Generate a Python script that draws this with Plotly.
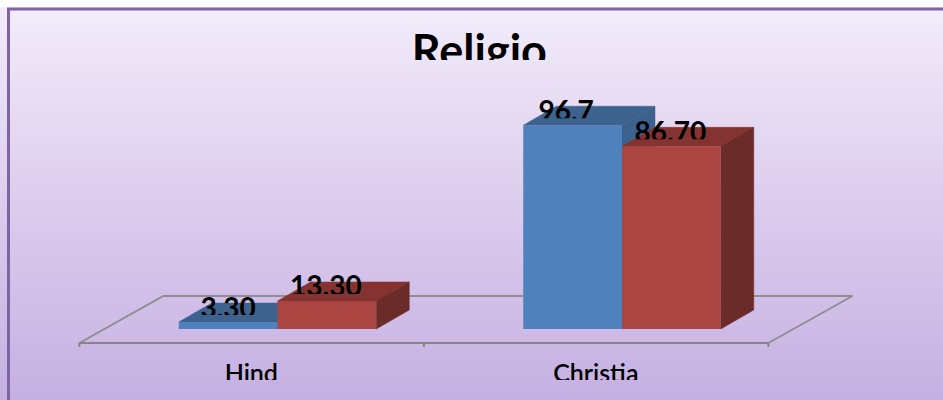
import numpy as np
import plotly.graph_objects as go

# ---- data ----
categories = ["Hind", "Christia"]
series_names = ["Series A", "Series B"]
series_a = [3.3, 96.7]
series_b = [13.3, 86.7]
labels_a = ["3.30", "96.7"]
labels_b = ["13.30", "86.70"]
title_text = "Religio"

# ---- axis scale (figure is 943x400) ----
W, H = 943, 400
PX_PER_X = 344.5      # pixels per category step
PX_PER_Y = 2.107      # pixels per value unit
X0_PX, Y0_PX = 277.5, 329
XR = [-X0_PX / PX_PER_X, (W - X0_PX) / PX_PER_X]
YR = [-(H - Y0_PX) / PX_PER_Y, Y0_PX / PX_PER_Y]

BAR_W = 98.75 / PX_PER_X
DX, DY = 33 / PX_PER_X, 19 / PX_PER_Y
xs = [0, 1]

fig = go.Figure()

# background gradient
gy = np.linspace(YR[0], (Y0_PX - 9) / PX_PER_Y, 120)
gz = [[v, v] for v in gy]
fig.add_trace(go.Heatmap(
    x=[(8 - X0_PX) / PX_PER_X, XR[1]], y=gy, z=gz, zsmooth="best", showscale=False, hoverinfo="skip",
    zmin=gy[0], zmax=gy[-1],
    colorscale=[[0, "#C5B0E2"], [0.5, "#DCCCED"], [1, "#F2ECFA"]], xaxis="x", yaxis="y"))

# floor
GRID = "#8E8E8E"
fl, fm, fr = -0.575, 0.425, 1.425
fy, by = -14 / PX_PER_Y, 33 / PX_PER_Y
bdx = 84 / PX_PER_X
tick = -18 / PX_PER_Y
fig.add_trace(go.Scatter(
    x=[fl, fl + bdx, fr + bdx, fr], y=[fy, by, by, fy], mode="lines",
    line=dict(color=GRID, width=2), hoverinfo="skip", xaxis="x", yaxis="y"))
fig.add_trace(go.Scatter(
    x=[fl, fr, None, fl, fl, None, fm, fm, None, fr, fr],
    y=[fy, fy, None, fy, tick, None, fy, tick, None, fy, tick], mode="lines",
    line=dict(color="#858585", width=2), hoverinfo="skip", xaxis="x", yaxis="y"))

# 3-D depth faces, derived from the values
def depth(vals, left_offset, top_col, side_col):
    for x, v in zip(xs, vals):
        l = x + left_offset
        r = l + BAR_W
        fig.add_trace(go.Scatter(x=[l, r, r + DX, l + DX, l], y=[v, v, v + DY, v + DY, v],
                                 fill="toself", fillcolor=top_col, mode="lines",
                                 line=dict(color=top_col, width=0.5), hoverinfo="skip", xaxis="x", yaxis="y"))
        fig.add_trace(go.Scatter(x=[r, r + DX, r + DX, r, r], y=[0, DY, v + DY, v, 0],
                                 fill="toself", fillcolor=side_col, mode="lines",
                                 line=dict(color=side_col, width=0.5), hoverinfo="skip", xaxis="x", yaxis="y"))

depth(series_a, -BAR_W, "#3D628E", "#3D628E")
depth(series_b, 0, "#843330", "#6B2B28")

# front faces
fig.add_trace(go.Bar(x=xs, y=series_a, name=series_names[0], marker=dict(color="#4F81BD", line=dict(width=0)),
                     xaxis="x2", yaxis="y2"))
fig.add_trace(go.Bar(x=xs, y=series_b, name=series_names[1], marker=dict(color="#AA4541", line=dict(width=0)),
                     xaxis="x2", yaxis="y2"))

layout_axes = {}
hid = dict(visible=False, fixedrange=True)
layout_axes["xaxis"] = dict(range=XR, domain=[0, 1], anchor="y", **hid)
layout_axes["yaxis"] = dict(range=YR, domain=[0, 1], anchor="x", **hid)
layout_axes["xaxis2"] = dict(range=XR, domain=[0, 1], anchor="y2", **hid)
layout_axes["yaxis2"] = dict(range=YR, domain=[0, 1], anchor="x2", **hid)

# clipped texts, each in a band whose lower edge cuts the glyphs
n = 3
def clipped(text, x, clip_val, size, bold=True, lift=4.0):
    global n
    bottom = (Y0_PX - clip_val * PX_PER_Y)
    dom0 = (H - bottom) / H
    fig.add_trace(go.Scatter(
        x=[x], y=[clip_val + lift / PX_PER_Y], mode="text", text=[text], textposition="middle center",
        textfont=dict(family="Lato", size=size, color="#000000", weight=700 if bold else 600),
        hoverinfo="skip", xaxis=f"x{n}", yaxis=f"y{n}"))
    layout_axes[f"xaxis{n}"] = dict(range=XR, domain=[0, 1], anchor=f"y{n}", **hid)
    layout_axes[f"yaxis{n}"] = dict(range=[clip_val, YR[1]], domain=[dom0, 1], anchor=f"x{n}", **hid)
    n += 1

CLIP = 7 / PX_PER_Y
for x, v, t in zip(xs, series_a, labels_a):
    clipped(t, x - BAR_W / 2 - 6.5 / PX_PER_X * (v > 50), v + CLIP, 28, lift=4.5)
for x, v, t in zip(xs, series_b, labels_b):
    clipped(t, x + BAR_W / 2 - 1 / PX_PER_X, v + CLIP, 28, lift=4.5)
for x, t in zip(xs, categories):
    clipped(t, x - 0.076, (Y0_PX - 380) / PX_PER_Y, 25, bold=False, lift=4)
clipped(title_text, 0.586, (Y0_PX - 60) / PX_PER_Y, 45, lift=4)

fig.update_layout(
    width=W, height=H, margin=dict(l=0, r=0, t=0, b=0, pad=0, autoexpand=False), paper_bgcolor="#FFFFFF",
    plot_bgcolor="rgba(0,0,0,0)", showlegend=False, barmode="group", bargap=1 - 2 * BAR_W, bargroupgap=0,
    shapes=[dict(type="rect", xref="paper", yref="paper", x0=8.5 / W, x1=1.01, y0=-0.01, y1=(H - 9) / H,
                 line=dict(color="#8064A2", width=3), fillcolor="rgba(0,0,0,0)", layer="above")],
    **layout_axes)

fig.write_html("out.html", config=dict(displayModeBar=False),
               post_script="document.body.style.margin='0';document.documentElement.style.overflow='hidden';")
